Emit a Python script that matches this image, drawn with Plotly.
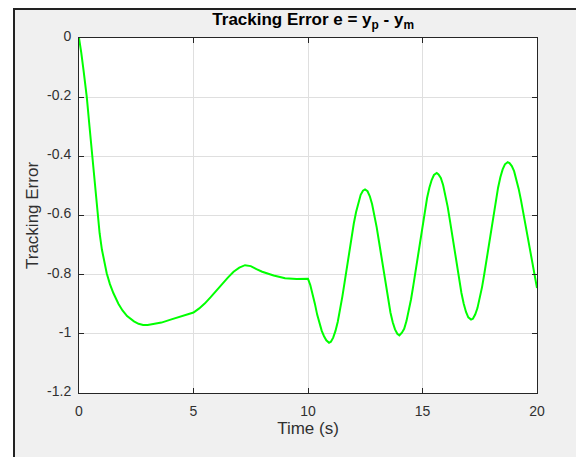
import plotly.graph_objects as go

t = [0.0, 0.05, 0.1, 0.2, 0.34, 0.46, 0.58, 0.69, 0.8, 0.9, 1.0, 1.1, 1.21, 1.35, 1.5, 1.72, 1.9, 2.1, 2.4, 2.6, 2.8, 3.0, 3.2, 3.6, 4.0, 4.5, 5.0,
     5.25, 5.5, 5.75, 6.0, 6.25, 6.5, 6.75, 7.0, 7.25, 7.5, 7.75, 8.0, 8.5, 9.0, 9.5, 10.0,
     10.1, 10.2, 10.3, 10.4, 10.5, 10.6, 10.7, 10.8, 10.92, 11.0, 11.1, 11.2, 11.3, 11.4, 11.5, 11.6, 11.7, 11.8, 11.9, 12.0, 12.1, 12.2, 12.3, 12.4, 12.49,
     12.6, 12.7, 12.8, 12.9, 13.0, 13.1, 13.2, 13.3, 13.4, 13.5, 13.6, 13.7, 13.8, 13.9, 13.99,
     14.1, 14.2, 14.3, 14.4, 14.5, 14.6, 14.7, 14.8, 14.9, 15.0, 15.1, 15.2, 15.3, 15.4, 15.5, 15.62,
     15.7, 15.8, 15.9, 16.0, 16.1, 16.2, 16.3, 16.4, 16.5, 16.6, 16.7, 16.8, 16.9, 17.0, 17.12,
     17.2, 17.3, 17.4, 17.5, 17.6, 17.7, 17.8, 17.9, 18.0, 18.1, 18.2, 18.3, 18.4, 18.5, 18.6, 18.72,
     18.8, 18.9, 19.0, 19.1, 19.2, 19.3, 19.4, 19.5, 19.6, 19.7, 19.8, 19.9, 20.0]
e = [0.0, -0.022, -0.05, -0.11, -0.2, -0.3, -0.4, -0.5, -0.59, -0.66, -0.715, -0.76, -0.795, -0.832, -0.862, -0.898, -0.921, -0.94, -0.958, -0.966, -0.97, -0.97, -0.968, -0.962, -0.952, -0.94, -0.928,
     -0.914, -0.897, -0.876, -0.853, -0.83, -0.81, -0.79, -0.776, -0.768, -0.771, -0.781, -0.79, -0.803, -0.812, -0.815, -0.814,
     -0.835, -0.862, -0.898, -0.935, -0.965, -0.99, -1.008, -1.022, -1.03, -1.027, -1.013, -0.99, -0.959, -0.92, -0.874, -0.825, -0.774, -0.722, -0.672, -0.627, -0.588, -0.555, -0.53, -0.516, -0.512,
     -0.518, -0.535, -0.562, -0.597, -0.64, -0.688, -0.738, -0.789, -0.84, -0.886, -0.928, -0.961, -0.985, -1.0, -1.005,
     -0.996, -0.983, -0.957, -0.924, -0.883, -0.836, -0.785, -0.733, -0.68, -0.63, -0.583, -0.541, -0.506, -0.48, -0.463, -0.456,
     -0.461, -0.473, -0.497, -0.53, -0.571, -0.618, -0.668, -0.72, -0.771, -0.819, -0.862, -0.898, -0.926, -0.944, -0.952,
     -0.949, -0.935, -0.913, -0.881, -0.842, -0.797, -0.748, -0.697, -0.645, -0.594, -0.547, -0.506, -0.471, -0.444, -0.427, -0.42,
     -0.423, -0.433, -0.45, -0.477, -0.51, -0.548, -0.59, -0.635, -0.68, -0.726, -0.77, -0.81, -0.845]

x_ticks = [0, 5, 10, 15, 20]
x_labels = ["0", "5", "10", "15", "20"]
y_ticks = [0, -0.2, -0.4, -0.6, -0.8, -1, -1.2]
y_labels = ["0", "-0.2", "-0.4", "-0.6", "-0.8", "-1", "-1.2"]

W, H = 576, 457
L, R, T, B = 79, 39, 38, 64
pw, ph = W - L - R, H - T - B
FONT = "Liberation Sans, Arial, sans-serif"

def px(xp):
    return (xp - L) / pw

def py(yp):
    return (H - B - yp) / ph

fig = go.Figure()
fig.add_trace(go.Scatter(x=t, y=e, mode="lines",
                         line=dict(color="#00ff00", width=2, shape="linear"),
                         showlegend=False, hoverinfo="skip"))

axis_common = dict(
    showgrid=True, gridcolor="#dfdfdf", gridwidth=1,
    zeroline=False, showline=True, linecolor="#262626", linewidth=1,
    mirror="allticks", ticks="inside", ticklen=5, tickcolor="#262626",
    tickfont=dict(family=FONT, size=14, color="#303030"),
)

fig.update_xaxes(range=[0, 20], tickvals=x_ticks, ticktext=x_labels,
                 title=dict(text="Time (s)", font=dict(family=FONT, size=17, color="#303030"), standoff=4),
                 ticklabelstandoff=5, **axis_common)
fig.update_yaxes(range=[-1.2, 0], tickvals=y_ticks, ticktext=y_labels,
                 title=dict(text="Tracking Error", font=dict(family=FONT, size=17, color="#303030"), standoff=4),
                 ticklabelstandoff=4, ticklabelshift=-2, **axis_common)

shapes = [
    dict(type="rect", xref="paper", yref="paper", x0=px(-5), x1=px(13), y0=py(H + 5), y1=py(-5),
         fillcolor="white", line=dict(width=0), layer="above"),
    dict(type="rect", xref="paper", yref="paper", x0=px(-5), x1=px(W + 5), y0=py(8), y1=py(-5),
         fillcolor="white", line=dict(width=0), layer="above"),
    dict(type="line", xref="paper", yref="paper", x0=px(14), x1=px(14), y0=py(8), y1=py(H + 5),
         line=dict(color="#222222", width=2), layer="above"),
    dict(type="line", xref="paper", yref="paper", x0=px(13), x1=px(W + 5), y0=py(9), y1=py(9),
         line=dict(color="#222222", width=2), layer="above"),
]

fig.update_layout(
    width=W, height=H,
    margin=dict(l=L, r=R, t=T, b=B, pad=0),
    paper_bgcolor="#f0f0f0", plot_bgcolor="white",
    title=dict(text="<b>Tracking Error e = y<sub>p</sub> - y<sub>m</sub></b>",
               x=px(328), xanchor="center", y=1 - 19 / H, yanchor="middle",
               font=dict(family=FONT, size=17, color="black")),
    shapes=shapes,
)

fig.write_html("out.html")
